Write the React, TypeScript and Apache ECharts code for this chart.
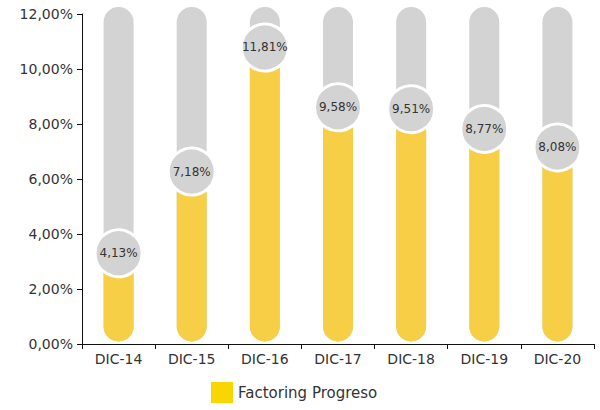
import React, { useEffect, useRef } from "react";
import * as echarts from "echarts";

const categories = ["DIC-14", "DIC-15", "DIC-16", "DIC-17", "DIC-18", "DIC-19", "DIC-20"];
const values = [4.13, 7.18, 11.81, 9.58, 9.51, 8.77, 8.08];
const yMax = 12;
const seriesName = "Factoring Progreso";

const fmt = (v: number) => v.toFixed(2).replace(".", ",") + "%";
const FONT = "DejaVu Sans";

export default function App() {
  const ref = useRef<HTMLDivElement>(null);
  useEffect(() => {
    const chart = echarts.init(ref.current!, undefined, { renderer: "svg" });
    const BAR_W = 30;
    const circleDy = (v: number) => 20 + 0.7 * v;
    chart.setOption({
      animation: false,
      textStyle: { fontFamily: FONT },
      grid: { left: 82, right: 6, top: 14, bottom: 66, containLabel: false, outerBoundsMode: "none" },
      legend: {
        bottom: 2,
        left: 206,
        data: [{ name: seriesName, icon: "rect", itemStyle: { color: "#f9d504" } }],
        itemWidth: 22,
        itemHeight: 21,
        itemGap: 8,
        textStyle: { fontSize: 15, color: "#333", fontFamily: FONT },
      },
      xAxis: {
        type: "category",
        data: categories,
        axisLine: { lineStyle: { color: "#111", width: 1 } },
        axisTick: { show: true, length: 5, lineStyle: { color: "#111" } },
        axisLabel: { fontSize: 14, color: "#333", margin: 8, fontFamily: FONT },
      },
      yAxis: {
        type: "value",
        min: 0,
        max: yMax,
        interval: 2,
        axisLine: { show: true, lineStyle: { color: "#111", width: 1 } },
        axisTick: { show: true, length: 5, lineStyle: { color: "#111" } },
        splitLine: { show: false },
        axisLabel: {
          fontSize: 14,
          color: "#333",
          margin: 9,
          fontFamily: FONT,
          formatter: (v: number) => fmt(v),
        },
      },
      series: [
        {
          type: "custom",
          name: seriesName,
          data: values.map((v, i) => [i, v]),
          encode: { x: 0, y: 1 },
          itemStyle: { color: "#f7cf47" },
          renderItem: (params: any, api: any) => {
            const idx = api.value(0);
            const val = api.value(1);
            const top = api.coord([idx, yMax]);
            const base = api.coord([idx, 0]);
            const at = api.coord([idx, val]);
            const x = at[0] - BAR_W / 2;
            const bottom = base[1] - 2.5;
            const trackTop = top[1] - 7;
            const yellowTop = at[1] + circleDy(val);
            return {
              type: "group",
              children: [
                {
                  type: "rect",
                  shape: { x, y: trackTop, width: BAR_W, height: bottom - trackTop, r: BAR_W / 2 },
                  style: { fill: "#d3d3d3" },
                },
                {
                  type: "rect",
                  shape: { x, y: yellowTop, width: BAR_W, height: bottom - yellowTop, r: [0, 0, BAR_W / 2, BAR_W / 2] },
                  style: { fill: "#f7cf47" },
                },
              ],
            };
          },
          clip: false,
          z: 2,
        },
        {
          type: "scatter",
          name: "labels",
          data: values.map((v) => ({ value: v, symbolOffset: [0, circleDy(v)] })),
          symbol: "circle",
          symbolSize: 47,
          itemStyle: { color: "#d3d3d3", borderColor: "#fff", borderWidth: 3, opacity: 1 },
          label: {
            show: true,
            position: "inside",
            formatter: (p: any) => fmt(p.value),
            fontSize: 12,
            color: "#333",
            fontFamily: FONT,
          },
          z: 3,
        },
      ],
    });
    return () => chart.dispose();
  }, []);
  return <div ref={ref} style={{ position: "absolute", left: 0, top: 0, width: 600, height: 410 }} />;
}
